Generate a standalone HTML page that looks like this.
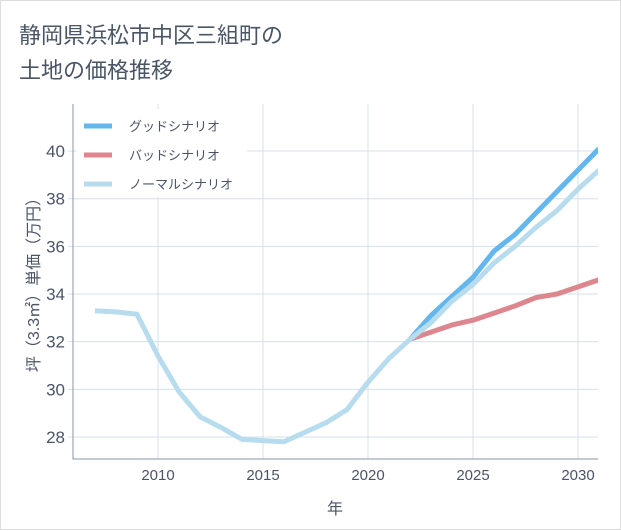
<!DOCTYPE html>
<html><head><meta charset="utf-8"><style>
body{margin:0;background:#fff;}
#wrap{position:relative;width:621px;height:530px;background:#fff;border:1px solid #ddd;box-sizing:border-box;font-family:"Liberation Sans","Noto Sans CJK JP",sans-serif;}
</style></head><body>
<div id="wrap">
<svg id="c" width="621" height="530" style="position:absolute;left:0;top:0">
<text x="18" y="42" font-size="22" fill="#4a5566" font-family="Liberation Sans, Noto Sans CJK JP, sans-serif">静岡県浜松市中区三組町の</text>
<text x="18" y="77" font-size="22" fill="#4a5566" font-family="Liberation Sans, Noto Sans CJK JP, sans-serif">土地の価格推移</text>
</svg>
</div>
<script>
const years=[2007,2008,2009,2010,2011,2012,2013,2014,2015,2016,2017,2018,2019,2020,2021,2022,2023,2024,2025,2026,2027,2028,2029,2030,2031];
const normal=[33.3,33.25,33.15,31.4,29.9,28.85,28.4,27.9,27.85,27.8,28.2,28.6,29.15,30.3,31.3,32.1,32.8,33.7,34.4,35.3,36.0,36.8,37.5,38.4,39.2];
const goodYears=[2022,2023,2024,2025,2026,2027,2028,2029,2030,2031];
const good=[32.1,33.1,33.9,34.7,35.8,36.5,37.4,38.3,39.2,40.1];
const bad=[32.1,32.4,32.7,32.9,33.2,33.5,33.85,34.0,34.3,34.6];
const xTicks=[2010,2015,2020,2025,2030];
const yTicks=[28,30,32,34,36,38,40];
const L=72,R=597,T=103,B=458;
const X=y=>157+(y-2010)*21;
const Y=v=>436-(v-28)*23.83;
const svg=document.getElementById('c');const NS='http://www.w3.org/2000/svg';
function mk(t,a,p){const e=document.createElementNS(NS,t);for(const k in a)e.setAttribute(k,a[k]);(p||svg).appendChild(e);return e;}
xTicks.forEach(t=>{const l=mk('line',{x1:X(t),x2:X(t),y1:T,y2:B,stroke:'#d5e0ea'});


const tx=mk('text',{x:X(t),y:B+21,'text-anchor':'middle','font-size':15,fill:'#4a5566'});tx.textContent=t;

});
yTicks.forEach(t=>{const l=mk('line',{x1:L-5,x2:R,y1:Y(t),y2:Y(t),stroke:'#d5e0ea'});


const tx=mk('text',{x:L-8,y:Y(t)+6,'text-anchor':'end','font-size':17,fill:'#4a5566'});tx.textContent=t;

});
const fr=mk('path',{d:`M${L},${T}V${B}H${R}`,fill:'none',stroke:'#8a96a3'});


const xt=mk('text',{x:334,y:513,'text-anchor':'middle','font-size':16,fill:'#4a5566'});xt.textContent='年';


const yt=mk('text',{transform:'translate(38,280) rotate(-90)','text-anchor':'middle','font-size':16,fill:'#4a5566'});yt.textContent='坪（3.3㎡）単価（万円）';


const cp=mk('clipPath',{id:'cp'});mk('rect',{x:L,y:T,width:R-L,height:B-T},cp);
function line(xs,vs,col,name){const d=xs.map((y,i)=>(i?'L':'M')+X(y)+','+Y(vs[i])).join('');
const p=mk('path',{d,fill:'none',stroke:col,'stroke-width':5,'stroke-linejoin':'round','clip-path':'url(#cp)'});

}
line(goodYears,bad,'#dd868e','bad-scenario-line');
line(goodYears,good,'#63b6ee','good-scenario-line');
line(years,normal,'#b7dcee','normal-scenario-line');
const lg=mk('rect',{x:76,y:108,width:170,height:88,fill:'#fff'});


[['グッドシナリオ','#63b6ee',125],['バッドシナリオ','#dd868e',154],['ノーマルシナリオ','#b7dcee',183]].forEach(([t,c,y],i)=>{
const l=mk('line',{x1:83,x2:111,y1:y,y2:y,stroke:c,'stroke-width':5});


const tx=mk('text',{x:128,y:y+5,'font-size':13,fill:'#4a5566'});tx.textContent=t;

});
</script>
</body></html>
